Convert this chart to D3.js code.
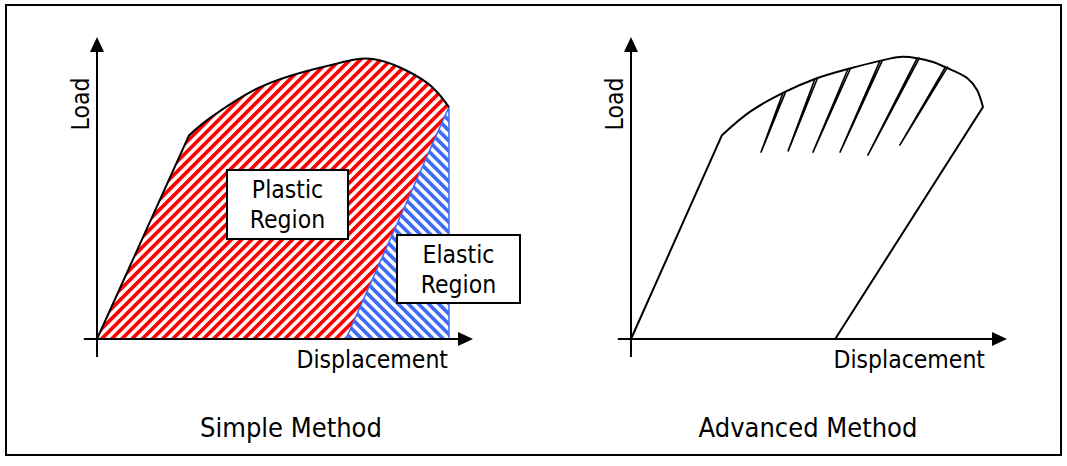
<!DOCTYPE html>
<html>
<head>
<meta charset="utf-8">
<script src="https://cdn.jsdelivr.net/npm/d3@7"></script>
<style>
body { margin: 0; background: #fff; }
svg { display: block; font-family: "DejaVu Sans Condensed", "DejaVu Sans", Verdana, sans-serif; font-stretch: condensed; }
</style>
</head>
<body>
<div id="chart-area"></div>
<script>
// load-displacement curves (displacement and load in % of axis length)
var simpleDisp = [0, 24.5, 30.1, 43.4, 61.2, 73.4, 87.8, 93.6]
var simpleLoad = [0, 67.5, 73.2, 83.4, 90.4, 92.7, 84.8, 76.8]
var simpleUnloadDisp = 66.2

var advDisp = [0, 24.2, 31.6, 40.4, 48.9, 57.7, 66.2, 71.5, 76.1, 80.3, 83.6, 89.4, 92.0, 93.6]
var advLoad = [0, 67.5, 75.2, 81.5, 86.1, 89.4, 92.1, 93.4, 93.0, 91.7, 90.0, 86.4, 82.5, 76.8]
var advUnloadDisp = 54.3

var cycleTopDisp = [40.4, 48.9, 57.7, 66.2, 76.1, 83.6]
var cycleTopLoad = [81.5, 86.1, 89.4, 92.1, 93.0, 90.0]
var cycleBottomDisp = [34.6, 41.8, 48.4, 55.6, 63.0, 71.5]
var cycleBottomLoad = [61.9, 62.3, 61.9, 61.9, 60.9, 64.2]

var titles = ["Simple Method", "Advanced Method"]
var xLabel = "Displacement"
var yLabel = "Load"
var plasticLabel = ["Plastic", "Region"]
var elasticLabel = ["Elastic", "Region"]

var cw = 1067
var ch = 466

var svg = d3.select("#chart-area").append("svg")
    .attr("width", cw)
    .attr("height", ch)

svg.append("rect")
    .attr("x", 6).attr("y", 5)
    .attr("width", 1055).attr("height", 450)
    .attr("fill", "none")
    .attr("stroke", "#000")
    .attr("stroke-width", 2)

var defs = svg.append("defs")

function hatch(id, color, angle) {
    var p = defs.append("pattern")
        .attr("id", id)
        .attr("patternUnits", "userSpaceOnUse")
        .attr("width", 7.2)
        .attr("height", 7.2)
        .attr("patternTransform", "rotate(" + angle + ")")
    p.append("rect").attr("width", 7.2).attr("height", 7.2).attr("fill", "#fff")
    p.append("rect").attr("width", 3.7).attr("height", 7.2).attr("fill", color)
}
hatch("red-hatch", "#ff0000", 45)
hatch("blue-hatch", "#3f6cf5", -45)

var y = d3.scaleLinear().domain([0, 100]).range([339, 37])

function zip(a, b) { return a.map((d, i) => [d, b[i]]) }

function drawAxes(x, labelX) {
    var g = svg.append("g")
    g.append("line")
        .attr("x1", x(-3.5)).attr("x2", x(97))
        .attr("y1", y(0)).attr("y2", y(0))
        .attr("stroke", "#000").attr("stroke-width", 2)
    g.append("line")
        .attr("x1", x(0)).attr("x2", x(0))
        .attr("y1", y(-6)).attr("y2", y(96))
        .attr("stroke", "#000").attr("stroke-width", 2)
    // arrow heads
    g.append("path")
        .attr("d", `M${x(100)},${y(0)}L${x(100) - 15},${y(0) - 7}L${x(100) - 15},${y(0) + 7}Z`)
        .attr("fill", "#000")
    g.append("path")
        .attr("d", `M${x(0)},${y(100)}L${x(0) - 7},${y(100) + 15}L${x(0) + 7},${y(100) + 15}Z`)
        .attr("fill", "#000")

    g.append("text")
        .attr("x", labelX)
        .attr("y", 368)
        .attr("text-anchor", "end")
        .attr("font-size", "24.5px")
        .text(xLabel)

    g.append("text")
        .attr("transform", `translate(${x(0) - 8}, 104) rotate(-90)`)
        .attr("text-anchor", "middle")
        .attr("font-size", "24.5px")
        .text(yLabel)
}

function envelopePath(x, disp, load) {
    var pts = zip(disp, load).map(d => [x(d[0]), y(d[1])])
    var straight = d3.line()(pts.slice(0, 2))
    var curved = d3.line().curve(d3.curveCatmullRom.alpha(0.5))(pts.slice(1))
    return straight + curved.replace("M", "L")
}

function textBox(x0, y0, w, h, lines) {
    svg.append("rect")
        .attr("x", x0).attr("y", y0)
        .attr("width", w).attr("height", h)
        .attr("fill", "#fff")
        .attr("stroke", "#000")
        .attr("stroke-width", 2)
    svg.selectAll(null)
        .data(lines)
        .enter()
        .append("text")
        .attr("x", x0 + w / 2)
        .attr("y", (d, i) => y0 + 28 + i * 30)
        .attr("text-anchor", "middle")
        .attr("font-size", "24.5px")
        .text(d => d)
}

// ---- simple method ----
var x1 = d3.scaleLinear().domain([0, 100]).range([97, 473])
var last = simpleDisp.length - 1
var env1 = envelopePath(x1, simpleDisp, simpleLoad)

svg.append("path")
    .attr("d", env1 + `L${x1(simpleUnloadDisp)},${y(0)}Z`)
    .attr("fill", "url(#red-hatch)")

svg.append("path")
    .attr("d", d3.line()([
        [x1(simpleUnloadDisp), y(0)],
        [x1(simpleDisp[last]), y(simpleLoad[last])],
        [x1(simpleDisp[last]), y(0)]
    ]) + "Z")
    .attr("fill", "url(#blue-hatch)")
    .attr("stroke", "#3f6cf5")
    .attr("stroke-width", 1.5)

svg.append("path")
    .attr("d", env1)
    .attr("fill", "none")
    .attr("stroke", "#000")
    .attr("stroke-width", 2)

drawAxes(x1, 448)
textBox(227, 170, 121, 69, plasticLabel)
textBox(397, 235, 123, 68, elasticLabel)

// ---- advanced method ----
var x2 = d3.scaleLinear().domain([0, 100]).range([631, 1007])

svg.append("path")
    .attr("d", envelopePath(x2, advDisp, advLoad) +
        `L${x2(advUnloadDisp)},${y(0)}`)
    .attr("fill", "none")
    .attr("stroke", "#000")
    .attr("stroke-width", 2)

svg.selectAll(".cycle")
    .data(cycleTopDisp.map((d, i) => ({
        top: [x2(d), y(cycleTopLoad[i])],
        bottom: [x2(cycleBottomDisp[i]), y(cycleBottomLoad[i])]
    })))
    .enter()
    .append("path")
    .attr("class", "cycle")
    .attr("d", d => d3.line()([d.top, d.bottom, [d.top[0] + 2.5, d.top[1] - 0.5]]))
    .attr("fill", "none")
    .attr("stroke", "#000")
    .attr("stroke-width", 1.6)
    .attr("stroke-linejoin", "round")

drawAxes(x2, 985)

// ---- titles ----
svg.selectAll(".title")
    .data(titles)
    .enter()
    .append("text")
    .attr("class", "title")
    .attr("x", (d, i) => i === 0 ? 291 : 808)
    .attr("y", 437)
    .attr("text-anchor", "middle")
    .attr("font-size", "27px")
    .text(d => d)
</script>
</body>
</html>
